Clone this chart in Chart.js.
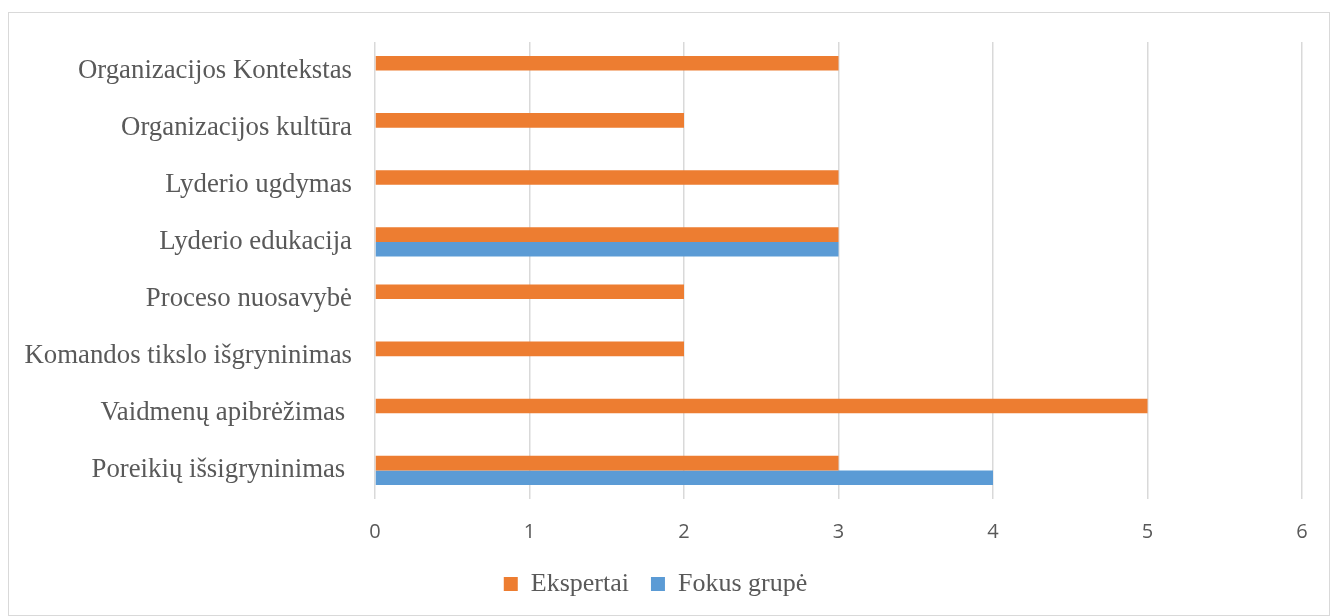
<!DOCTYPE html>
<html>
<head>
<meta charset="utf-8">
<script src="https://cdn.jsdelivr.net/npm/chart.js@4"></script>
<style>
  html, body { margin: 0; padding: 0; background: #ffffff; }
  #wrap { position: absolute; left: 8px; top: 12px; width: 1322px; height: 604px; border: 1px solid #d9d9d9; box-sizing: border-box; background: #fff; }
  canvas { display: block; }
</style>
</head>
<body>
<div id="wrap"><canvas id="c"></canvas></div>
<script>
const categories = [
  "Organizacijos Kontekstas",
  "Organizacijos kultūra",
  "Lyderio ugdymas",
  "Lyderio edukacija",
  "Proceso nuosavybė",
  "Komandos tikslo išgryninimas",
  "Vaidmenų apibrėžimas ",
  "Poreikių išsigryninimas "
];
const ekspertai = [3, 2, 3, 3, 2, 2, 5, 3];
const fokusGrupe = [0, 0, 0, 3, 0, 0, 0, 4];
const xTicks = [0, 1, 2, 3, 4, 5, 6];

const textColor = "#595959";
const serif = "Liberation Serif, Times New Roman, serif";

new Chart(document.getElementById("c"), {
  type: "bar",
  data: {
    labels: categories,
    datasets: [
      { label: "Ekspertai", data: ekspertai, backgroundColor: "#ED7D31", borderWidth: 0 },
      { label: "Fokus grupė", data: fokusGrupe, backgroundColor: "#5B9BD5", borderWidth: 0 }
    ]
  },
  options: {
    indexAxis: "y",
    responsive: true,
    maintainAspectRatio: false,
    animation: false,
    datasets: { bar: { categoryPercentage: 0.51, barPercentage: 1.0 } },
    layout: { padding: { top: 29, right: 27, left: 0, bottom: 8 } },
    plugins: {
      legend: {
        position: "bottom",
        labels: {
          color: textColor,
          font: { family: serif, size: 26 },
          boxWidth: 14,
          boxHeight: 14,
          padding: 22
        }
      },
      tooltip: { enabled: false }
    },
    scales: {
      x: {
        min: 0,
        max: 6,
        afterBuildTicks: (axis) => { axis.ticks = xTicks.map(v => ({ value: v })); },
        afterFit: (axis) => { axis.height = 50; },
        grid: { color: "#d9d9d9", lineWidth: 1.5, drawTicks: false },
        border: { display: false },
        ticks: {
          color: textColor,
          font: { family: "Open Sans, sans-serif", size: 20 },
          padding: 21
        }
      },
      y: {
        afterFit: (axis) => { axis.width = 366; axis.paddingTop = 0; axis.paddingBottom = 0; },
        grid: { display: false, drawTicks: false },
        border: { display: false },
        ticks: {
          color: textColor,
          font: { family: serif, size: 26.8 },
          padding: 23,
          autoSkip: false
        }
      }
    }
  }
});
</script>
</body>
</html>
